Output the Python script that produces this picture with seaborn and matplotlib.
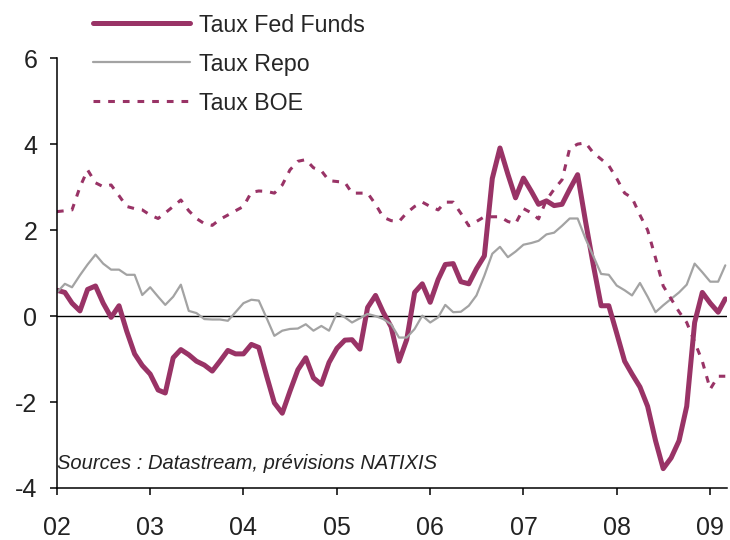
import pandas as pd
import numpy as np
import seaborn as sns
import matplotlib.pyplot as plt

# -------------------------------
#  Données (mensuelles)
# -------------------------------
mois = pd.date_range("2002-01-01", periods=87, freq="MS")

fed_funds = [
    0.60, 0.55, 0.30, 0.12, 0.62, 0.70, 0.30, -0.03, 0.24, -0.35, -0.88, -1.15,
    -1.35, -1.72, -1.79, -0.97, -0.78, -0.90, -1.05, -1.14, -1.28, -1.05, -0.80, -0.88,
    -0.88, -0.66, -0.73, -1.40, -2.02, -2.26, -1.75, -1.25, -0.97, -1.44, -1.59, -1.08,
    -0.75, -0.56, -0.55, -0.77, 0.20, 0.48, 0.09, -0.25, -1.05, -0.55, 0.55, 0.75,
    0.32, 0.85, 1.20, 1.22, 0.80, 0.75, 1.10, 1.40, 3.20, 3.91, 3.30, 2.75,
    3.21, 2.90, 2.60, 2.68, 2.57, 2.60, 2.95, 3.29, 2.20, 1.20, 0.24, 0.24,
    -0.40, -1.05, -1.35, -1.65, -2.10, -2.90, -3.55, -3.30, -2.90, -2.10, -0.15, 0.55,
    0.30, 0.09, 0.40,
]

repo = [
    0.55, 0.75, 0.67, 0.95, 1.20, 1.43, 1.22, 1.08, 1.08, 0.96, 0.96, 0.49,
    0.67, 0.45, 0.26, 0.45, 0.73, 0.12, 0.07, -0.07, -0.08, -0.08, -0.11, 0.09,
    0.30, 0.38, 0.36, -0.05, -0.46, -0.34, -0.30, -0.29, -0.19, -0.34, -0.23, -0.34,
    0.07, -0.03, -0.15, -0.05, 0.05, 0.00, -0.07, -0.19, -0.50, -0.50, -0.30, 0.01,
    -0.15, -0.03, 0.26, 0.09, 0.10, 0.24, 0.48, 0.94, 1.45, 1.61, 1.37, 1.50,
    1.66, 1.70, 1.75, 1.90, 1.94, 2.10, 2.27, 2.27, 1.80, 1.40, 0.98, 0.96,
    0.71, 0.60, 0.48, 0.77, 0.45, 0.09, 0.25, 0.40, 0.55, 0.73, 1.22, 1.02,
    0.80, 0.80, 1.18,
]

boe = [
    2.43, 2.45, 2.47, 3.00, 3.40, 3.10, 3.01, 3.05, 2.80, 2.55, 2.50, 2.47,
    2.35, 2.27, 2.40, 2.55, 2.70, 2.45, 2.27, 2.15, 2.11, 2.25, 2.35, 2.45,
    2.55, 2.88, 2.91, 2.90, 2.86, 3.05, 3.40, 3.60, 3.64, 3.45, 3.38, 3.15,
    3.13, 3.11, 2.86, 2.86, 2.86, 2.60, 2.30, 2.22, 2.20, 2.40, 2.55, 2.65,
    2.55, 2.47, 2.65, 2.65, 2.39, 2.10, 2.20, 2.31, 2.31, 2.31, 2.20, 2.15,
    2.50, 2.40, 2.26, 2.70, 2.95, 3.17, 3.90, 4.00, 4.03, 3.80, 3.65, 3.50,
    3.20, 2.86, 2.75, 2.35, 2.00, 1.35, 0.70, 0.40, 0.10, -0.15, -0.60, -1.05,
    -1.70, -1.40, -1.40,
]

annees = pd.date_range("2002-01-01", "2009-01-01", freq="YS")
etiquettes = ["02", "03", "04", "05", "06", "07", "08", "09"]

# -------------------------------
#  Graphique
# -------------------------------
sns.set_style("ticks")
plt.rcParams["font.family"] = ["Liberation Sans", "DejaVu Sans"]
plt.rcParams["axes.unicode_minus"] = False  # tiret simple comme dans l'original

violet = "#993366"
gris = "#A3A3A3"

fig = plt.figure(figsize=(7.3, 5.4), dpi=100)
ax = fig.add_axes([0.078, 0.0963, 0.918, 0.796])

sns.lineplot(x=mois, y=fed_funds, ax=ax, color=violet, lw=3.6, label="Taux Fed Funds")
sns.lineplot(x=mois, y=repo, ax=ax, color=gris, lw=1.6, label="Taux Repo")
sns.lineplot(x=mois, y=boe, ax=ax, color=violet, lw=2.2, dashes=False, label="Taux BOE")
ax.lines[2].set_dashes((2.2, 2.6))

ax.axhline(0, color="black", lw=1.0, zorder=1)

ax.set_ylim(-4, 6)
ax.set_yticks([-4, -2, 0, 2, 4, 6])
ax.set_xlim(pd.Timestamp("2002-01-01"), pd.Timestamp("2009-03-08"))
ax.set_xticks(annees)
ax.set_xticklabels(etiquettes)
ax.set_xlabel("")
ax.set_ylabel("")

sns.despine(ax=ax)
for s in ["left", "bottom"]:
    ax.spines[s].set_color("black")
    ax.spines[s].set_linewidth(1.1)
ax.tick_params(axis="both", direction="out", length=5, width=1.1, colors="black",
               labelsize=18, labelcolor="#222222")
ax.tick_params(axis="y", pad=9)
ax.tick_params(axis="x", pad=15)

ax.text(pd.Timestamp("2002-01-01"), -3.42, "Sources : Datastream, prévisions NATIXIS",
        fontsize=14.5, style="italic", color="#222222", va="center", ha="left")

ax.legend(loc="upper left", bbox_to_anchor=(0.127, 0.975), bbox_transform=fig.transFigure,
          frameon=False, fontsize=16.7, handlelength=4.2, handletextpad=0.4,
          labelspacing=0.69, borderpad=0, borderaxespad=0)

fig.savefig("out.png", dpi=100)
